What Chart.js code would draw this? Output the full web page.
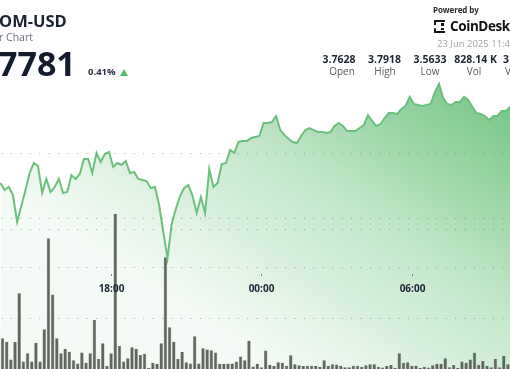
<!DOCTYPE html>
<html><head><meta charset="utf-8">
<script src="https://cdn.jsdelivr.net/npm/chart.js@4.4.1/dist/chart.umd.min.js"></script>
<style>
html,body{margin:0;padding:0;background:#fff;width:510px;height:369px;overflow:hidden;}
#wrap{position:relative;width:510px;height:369px;overflow:hidden;}
canvas{position:absolute;left:0;top:0;}
.t{position:absolute;white-space:nowrap;font-family:"Open Sans",sans-serif;line-height:1;}
.b{font-weight:700;}
.c{transform:translateX(-50%);}
</style></head><body>
<div id="wrap">
<canvas id="c" width="510" height="369"></canvas>
<div class="t b" style="left:-1px;top:12.5px;font-size:16.5px;color:#1a2233;">OM-USD</div>
<div class="t" style="left:-1px;top:32px;font-size:10.5px;color:#6b727c;">r Chart</div>
<div class="t b" style="left:-2px;top:46px;font-size:34px;color:#131b2c;">7781</div>
<div class="t b" style="left:88px;top:66.5px;font-size:9.5px;color:#2a3140;">0.41%</div>
<div style="position:absolute;left:120px;top:69px;width:0;height:0;border-left:4.7px solid transparent;border-right:4.7px solid transparent;border-bottom:7.5px solid #52bd68;"></div>
<div class="t b" style="left:433px;top:6px;font-size:8px;color:#2b2b2b;letter-spacing:-0.1px;">Powered by</div>
<div style="position:absolute;left:434px;top:20px;width:9px;height:9px;border:2.5px dashed #151515;border-right:none;"></div>
<div style="position:absolute;left:441px;top:23px;width:2.5px;height:2.5px;background:#151515;"></div>
<div style="position:absolute;left:441px;top:27.5px;width:2.5px;height:2.5px;background:#151515;"></div>
<div class="t b" style="left:450px;top:20px;font-size:13.5px;color:#111;letter-spacing:-0.4px;">CoinDesk</div>
<div class="t" style="left:437px;top:38.5px;font-size:9.5px;color:#a0a4a8;">23 Jun 2025 11:48</div>
<div class="t b c" style="left:339px;top:53.5px;font-size:10.5px;color:#1e2633;">3.7628</div>
<div class="t b c" style="left:384.5px;top:53.5px;font-size:10.5px;color:#1e2633;">3.7918</div>
<div class="t b c" style="left:430px;top:53.5px;font-size:10.5px;color:#1e2633;">3.5633</div>
<div class="t b c" style="left:475.5px;top:53.5px;font-size:10.5px;color:#1e2633;">828.14 K</div>
<div class="t b" style="left:503px;top:53.5px;font-size:10.5px;color:#1e2633;">3</div>
<div class="t c" style="left:342px;top:66px;font-size:10px;color:#555d66;">Open</div>
<div class="t c" style="left:385px;top:66px;font-size:10px;color:#555d66;">High</div>
<div class="t c" style="left:430px;top:66px;font-size:10px;color:#555d66;">Low</div>
<div class="t c" style="left:474px;top:66px;font-size:10px;color:#555d66;">Vol</div>
<div class="t" style="left:505px;top:66px;font-size:10px;color:#555d66;">V</div>
</div>
<script>
// ---- data ----
const barTimes = ['13:30','13:40','13:50',
'14:00','14:10','14:20','14:30','14:40','14:50',
'15:00','15:10','15:20','15:30','15:40','15:50',
'16:00','16:10','16:20','16:30','16:40','16:50',
'17:00','17:10','17:20','17:30','17:40','17:50',
'18:00','18:10','18:20','18:30','18:40','18:50',
'19:00','19:10','19:20','19:30','19:40','19:50',
'20:00','20:10','20:20','20:30','20:40','20:50',
'21:00','21:10','21:20','21:30','21:40','21:50',
'22:00','22:10','22:20','22:30','22:40','22:50',
'23:00','23:10','23:20','23:30','23:40','23:50',
'00:00','00:10','00:20','00:30','00:40','00:50',
'01:00','01:10','01:20','01:30','01:40','01:50',
'02:00','02:10','02:20','02:30','02:40','02:50',
'03:00','03:10','03:20','03:30','03:40','03:50',
'04:00','04:10','04:20','04:30','04:40','04:50',
'05:00','05:10','05:20','05:30','05:40','05:50',
'06:00','06:10','06:20','06:30','06:40','06:50',
'07:00','07:10','07:20','07:30','07:40','07:50',
'08:00','08:10','08:20','08:30','08:40','08:50',
'09:00','09:10','09:20','09:30','09:40','09:50'];

const priceTimes = ['13:35','13:45','13:55',
'14:05','14:15','14:25','14:35','14:45','14:55',
'15:05','15:15','15:25','15:35','15:45','15:55',
'16:05','16:15','16:25','16:35','16:45','16:55',
'17:05','17:15','17:25','17:35','17:45','17:55',
'18:05','18:15','18:25','18:35','18:45','18:55',
'19:05','19:15','19:25','19:35','19:45','19:55',
'20:05','20:15','20:25','20:35','20:45','20:55',
'21:05','21:15','21:25','21:35','21:45','21:55',
'22:05','22:15','22:25','22:35','22:45','22:55',
'23:05','23:15','23:25','23:35','23:45','23:55',
'00:05','00:15','00:25','00:35','00:45','00:55',
'01:05','01:15','01:25','01:35','01:45','01:55',
'02:05','02:15','02:25','02:35','02:45','02:55',
'03:05','03:15','03:25','03:35','03:45','03:55',
'04:05','04:15','04:25','04:35','04:45','04:55',
'05:05','05:15','05:25','05:35','05:45','05:55',
'06:05','06:15','06:25','06:35','06:45','06:55',
'07:05','07:15','07:25','07:35','07:45','07:55',
'08:05','08:15','08:25','08:35','08:45','08:55',
'09:05','09:15','09:25','09:35','09:45','09:55'];

// price (USD)
const price = [3.6617,3.6525,3.6564,3.6459,3.6104,3.6314,3.6525,3.6749,3.6880,3.6841,
3.6486,3.6670,3.6499,3.6564,3.6670,3.6486,3.6499,3.6722,3.6670,3.6736,
3.6933,3.6933,3.6749,3.7012,3.6893,3.6999,3.7025,3.6828,3.6880,3.6854,
3.6907,3.6749,3.6762,3.6670,3.6657,3.6643,3.6551,3.6564,3.6328,3.5972,
3.5630,3.6078,3.6275,3.6446,3.6551,3.6591,3.6446,3.6222,3.6433,3.6222,
3.6801,3.6564,3.6617,3.6867,3.6880,3.7051,3.7012,3.7157,3.7170,3.7170,
3.7209,3.7222,3.7236,3.7407,3.7407,3.7420,3.7499,3.7314,3.7249,3.7196,
3.7157,3.7143,3.7236,3.7314,3.7341,3.7314,3.7288,3.7288,3.7275,3.7288,
3.7367,3.7407,3.7367,3.7301,3.7301,3.7301,3.7341,3.7380,3.7512,3.7433,
3.7367,3.7393,3.7472,3.7538,3.7538,3.7525,3.7591,3.7630,3.7749,3.7657,
3.7643,3.7630,3.7643,3.7657,3.7814,3.7920,3.7736,3.7657,3.7643,3.7683,
3.7683,3.7749,3.7709,3.7617,3.7538,3.7525,3.7499,3.7446,3.7499,3.7499,
3.7564,3.7564,3.7617];

// volume (thousands)
const volume = [10.6,8.3,7.4,2.6,7.4,20.5,2.0,4.3,2.0,7.1,
2.0,10.8,35.4,20.2,8.3,4.3,5.4,4.7,2.4,1.5,
4.5,1.7,4.3,13.3,2.7,7.0,0.8,4.3,42.0,6.2,
2.0,2.9,5.9,5.4,3.8,4.1,0.3,1.7,1.4,7.0,
30.3,11.3,7.4,2.7,4.7,1.8,1.5,8.9,1.5,5.6,
5.3,5.1,4.5,1.4,1.4,1.5,1.5,2.0,3.4,2.4,
7.6,0.7,1.4,0.5,5.0,1.1,0.9,1.8,1.7,0.9,
3.7,1.3,1.0,0.8,0.9,0.9,0.8,0.6,2.4,0.9,
1.3,1.2,0.8,0.5,0.5,0.9,0.9,0.6,1.0,1.3,
1.3,0.6,0.4,0.8,1.1,0.3,4.3,1.6,1.8,0.9,
0.9,0.3,0.6,0.4,1.0,1.4,1.4,2.9,0.5,1.1,
0.3,2.0,1.7,2.6,4.4,1.1,2.2,0.8,0.5,2.7,
0.5,3.6,1.3];

const tickLabels = ['18:00','00:00','06:00'];
const priceGrid = [3.70, 3.615, 3.60, 3.55, 3.483];
const startTime = '13:30';
const viewStart = '13:34', viewEnd = '09:55';
const priceMin = 3.417, priceMax = 3.9025;
const volMax = 100;
const timeAxisAt = 3.542;

// ---- helpers ----
function toMin(t){const [h,m]=t.split(':').map(Number);return h*60+m;}
function minutesFrom(t){let d=toMin(t)-toMin(startTime);if(d<0)d+=1440;return d;}

// time axis labels drawn through the x and y scales
const timeAxisPlugin = {
  id:'timeAxis',
  afterDatasetsDraw(chart){
    const xs=chart.scales.x, ys=chart.scales.y, c=chart.ctx;
    const y0=Math.round(ys.getPixelForValue(timeAxisAt));
    c.save();
    tickLabels.forEach(l=>{
      const px=Math.round(xs.getPixelForValue(minutesFrom(l)))+0.5;
      c.strokeStyle='#7d827d'; c.lineWidth=1;
      c.beginPath(); c.moveTo(px,y0); c.lineTo(px,y0+2); c.stroke();
      c.fillStyle='#1c2434';
      c.font='bold 10px "Open Sans", sans-serif';
      c.textAlign='center'; c.textBaseline='middle';
      c.fillText(l,px,y0+15);
    });
    c.restore();
  }
};

const ctx = document.getElementById('c').getContext('2d');
new Chart(ctx,{
  type:'bar',
  data:{
    datasets:[
      {type:'line',order:0,yAxisID:'y',
       data:priceTimes.map((t,i)=>({x:minutesFrom(t),y:price[i]})),
       borderColor:'#6cc07d',borderWidth:2,pointRadius:0,tension:0,fill:'start',
       backgroundColor:(c)=>{
         const ch=c.chart; if(!ch.chartArea) return 'rgba(150,210,160,0.6)';
         const g=ch.ctx.createLinearGradient(470,80,280,369);
         g.addColorStop(0,'rgb(120,197,136)');
         g.addColorStop(0.5,'rgb(196,231,203)');
         g.addColorStop(1,'rgb(244,250,245)');
         return g;
       }},
      {type:'bar',order:1,yAxisID:'yv',
       data:barTimes.map((t,i)=>({x:minutesFrom(t),y:volume[i]})),
       backgroundColor:'#5f675f',borderColor:'#7d857d',borderWidth:{left:0.5,right:0.5,top:0,bottom:0},
       barPercentage:0.84,categoryPercentage:1}
    ]
  },
  options:{
    responsive:false,animation:false,devicePixelRatio:1,
    layout:{padding:0},
    plugins:{legend:{display:false},tooltip:{enabled:false},filler:{drawTime:'beforeDatasetsDraw'}},
    scales:{
      x:{type:'linear',min:minutesFrom(viewStart),max:minutesFrom(viewEnd),offset:false,
         display:false,grid:{offset:false}},
      y:{type:'linear',position:'left',min:priceMin,max:priceMax,
         afterBuildTicks:(s)=>{s.ticks=priceGrid.map(v=>({value:v}));},
         ticks:{display:false},
         grid:{z:1,color:'rgba(105,110,105,0.6)',lineWidth:1,drawTicks:false,borderDash:[1,8.45],borderDashOffset:7.95},
         border:{display:false,dash:[1,8.45],dashOffset:7.95}},
      yv:{type:'linear',min:0,max:volMax,display:false}
    }
  },
  plugins:[timeAxisPlugin]
});
</script>
</body></html>
